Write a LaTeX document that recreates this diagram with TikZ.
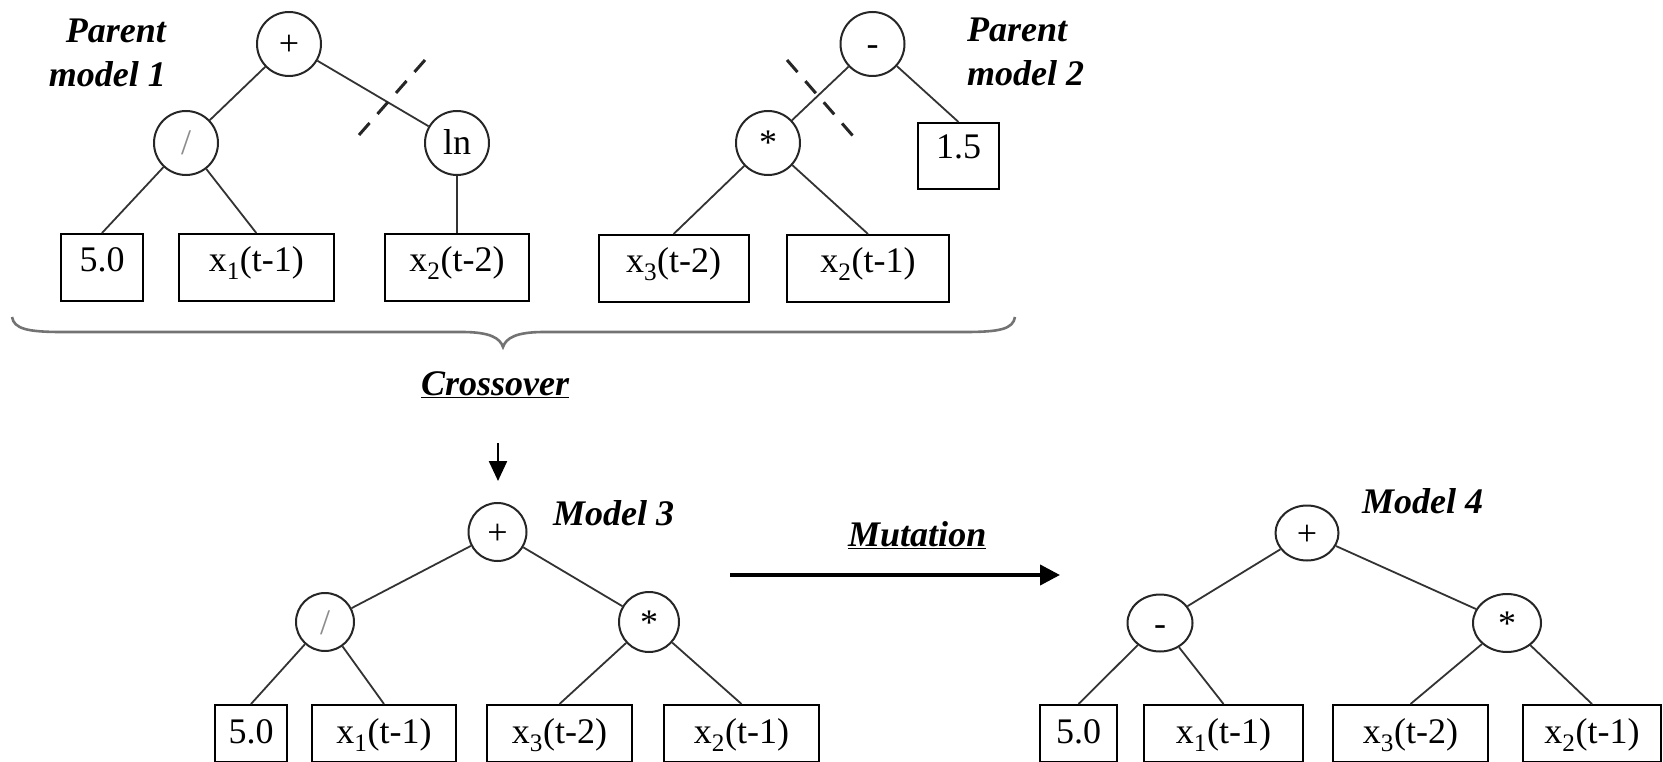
\documentclass[tikz,border=0pt]{standalone}
\usepackage{fontspec}
\setmainfont{Liberation Serif}
\usetikzlibrary{arrows.meta,shapes.geometric}

\tikzset{
  treefont/.style={font=\fontsize{36}{44}\selectfont},
  opnode/.style={circle, draw=black!85, line width=2pt, minimum size=64pt,
    inner sep=0pt, treefont, text height=24pt, text depth=0pt},
  opsmall/.style={opnode, minimum size=58pt},
  opoval/.style={ellipse, draw=black!85, line width=2pt, minimum width=65pt,
    minimum height=57pt, inner sep=0pt, treefont, text height=24pt, text depth=0pt},
  leaftop/.style={rectangle, draw=black, line width=2.2pt, anchor=north,
    inner xsep=0pt, inner ysep=0pt, text height=37pt, text depth=30pt, treefont},
  leafbot/.style={leaftop, text height=38pt, text depth=18.5pt},
  link/.style={draw=black!80, line width=1.8pt},
  tag/.style={font=\fontsize{36}{44}\selectfont\bfseries\itshape, inner sep=0pt},
  cutmark/.style={draw=black!85, line width=3pt, dash pattern=on 16pt off 12pt},
  slash/.style={text=black!45},
}

\begin{document}
\begin{tikzpicture}[x=1pt, y=-1pt]
\useasboundingbox (0,0) rectangle (1663,762);

% ---------- parent model 1 ----------
\node[opnode] (plusA) at (289,44) {+};
\node[opnode, slash] (divA) at (186,143) {/};
\node[opnode] (lnA) at (457,143) {ln};
\node[leaftop, minimum width=82.6pt] (fiveA) at (102,233) {5.0};
\node[leaftop, minimum width=155.4pt] (xoneA) at (256.3,233) {x\textsubscript{1}(t-1)};
\node[leaftop, minimum width=144pt] (xtwoA) at (457,233) {x\textsubscript{2}(t-2)};
\node[tag, align=right, anchor=north east] (parentA) at (166,19) {Parent\\model 1};

\path[link] (plusA) -- (divA);
\path[link] (plusA) -- (lnA);
\path[link] (divA) -- (fiveA.north);
\path[link] (divA) -- (xoneA.north);
\path[link] (lnA) -- (xtwoA.north);

% ---------- parent model 2 ----------
\node[opnode] (minusB) at (872.5,44) {-};
\node[opnode] (starB) at (768,143) {*};
\node[leaftop, minimum width=81pt, text height=35pt, text depth=31pt] (onefiveB) at (958.5,122) {1.5};
\node[leaftop, minimum width=150pt] (xthreeB) at (673.6,234) {x\textsubscript{3}(t-2)};
\node[leaftop, minimum width=162pt] (xtwoB) at (868,234) {x\textsubscript{2}(t-1)};
\node[tag, align=left, anchor=north west] (parentB) at (967,18) {Parent\\model 2};

\path[link] (minusB) -- (starB);
\path[link] (minusB) -- (onefiveB.north);
\path[link] (starB) -- (xthreeB.north);
\path[link] (starB) -- (xtwoB.north);

% crossover cut points
\coordinate (cutAa) at (359,135);
\coordinate (cutAb) at (425,60);
\coordinate (cutBa) at (787,60);
\coordinate (cutBb) at (853,136);
\draw[cutmark] (cutAa) -- (cutAb);
\draw[cutmark] (cutBa) -- (cutBb);

% brace under both parents
\draw[black!55, line width=2.6pt]
  (12,317) .. controls (14,329) and (28,332) .. (62,332) -- (462,332)
  .. controls (490,332) and (500,338) .. (503,347)
  .. controls (506,338) and (516,332) .. (544,332) -- (965,332)
  .. controls (1000,332) and (1013,329) .. (1015,317);

\node[tag, anchor=base west] (crossLbl) at (421,395) {\underline{Crossover}};

\coordinate (downA) at (498,443);
\coordinate (downB) at (498,481);
\draw[line width=2.4pt, -{Triangle[length=20pt,width=18pt]}] (downA) -- (downB);

% ---------- model 3 ----------
\node[opsmall] (plusC) at (497.5,532) {+};
\node[opsmall, slash] (divC) at (325,622) {/};
\node[opsmall, minimum size=60pt] (starC) at (649,622) {*};
\node[leafbot, minimum width=72pt] (fiveC) at (251,704) {5.0};
\node[leafbot, minimum width=144pt] (xoneC) at (384,704) {x\textsubscript{1}(t-1)};
\node[leafbot, minimum width=145pt] (xthreeC) at (559.5,704) {x\textsubscript{3}(t-2)};
\node[leafbot, minimum width=155pt] (xtwoC) at (741.5,704) {x\textsubscript{2}(t-1)};
\node[tag, anchor=base west] (modelC) at (553,525) {Model 3};

\path[link] (plusC) -- (divC);
\path[link] (plusC) -- (starC);
\path[link] (divC) -- (fiveC.north);
\path[link] (divC) -- (xoneC.north);
\path[link] (starC) -- (xthreeC.north);
\path[link] (starC) -- (xtwoC.north);

% mutation step
\node[tag, anchor=base west] (mutLbl) at (848,546) {\underline{Mutation}};
\coordinate (mutA) at (730,575);
\coordinate (mutB) at (1060,575);
\draw[line width=4pt, -{Triangle[length=20pt,width=20pt]}] (mutA) -- (mutB);

% ---------- model 4 ----------
\node[opoval, minimum width=63pt, minimum height=55pt] (plusD) at (1307,533) {+};
\node[opoval] (minusD) at (1160,623) {-};
\node[opoval, minimum width=68pt, minimum height=58pt] (starD) at (1507,623) {*};
\node[leafbot, minimum width=77pt] (fiveD) at (1078.5,704) {5.0};
\node[leafbot, minimum width=159pt] (xoneD) at (1223.5,704) {x\textsubscript{1}(t-1)};
\node[leafbot, minimum width=155pt] (xthreeD) at (1410.5,704) {x\textsubscript{3}(t-2)};
\node[leafbot, minimum width=138pt] (xtwoD) at (1592,704) {x\textsubscript{2}(t-1)};
\node[tag, anchor=base west] (modelD) at (1362,513) {Model 4};

\path[link] (plusD) -- (minusD);
\path[link] (plusD) -- (starD);
\path[link] (minusD) -- (fiveD.north);
\path[link] (minusD) -- (xoneD.north);
\path[link] (starD) -- (xthreeD.north);
\path[link] (starD) -- (xtwoD.north);
\end{tikzpicture}
\end{document}
